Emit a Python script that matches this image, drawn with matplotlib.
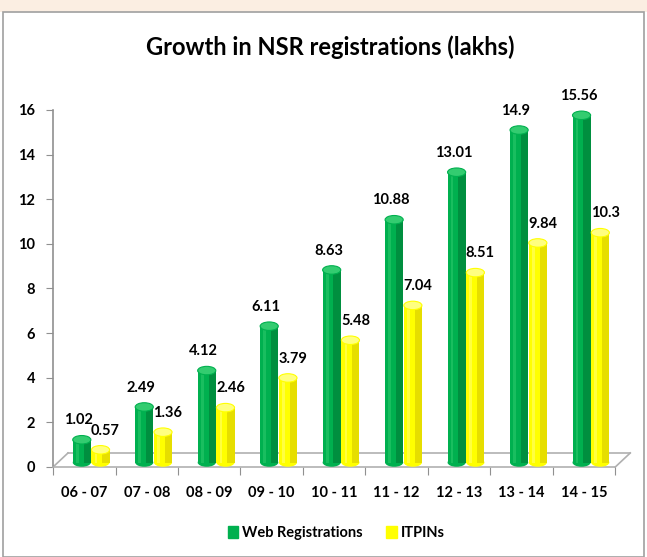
import matplotlib.pyplot as plt
from matplotlib.patches import Ellipse, Rectangle
import numpy as np

years = ['06 - 07', '07 - 08', '08 - 09', '09 - 10', '10 - 11',
         '11 - 12', '12 - 13', '13 - 14', '14 - 15']
web_reg = [1.02, 2.49, 4.12, 6.11, 8.63, 10.88, 13.01, 14.9, 15.56]
itpins = [0.57, 1.36, 2.46, 3.79, 5.48, 7.04, 8.51, 9.84, 10.3]
web_labels = ['1.02', '2.49', '4.12', '6.11', '8.63', '10.88', '13.01', '14.9', '15.56']
itp_labels = ['0.57', '1.36', '2.46', '3.79', '5.48', '7.04', '8.51', '9.84', '10.3']

FONT = ['Lato', 'DejaVu Sans']
plt.rcParams['font.family'] = FONT

fig = plt.figure(figsize=(6.47, 5.57), dpi=100)
# screenshot frame
fig.patches.append(Rectangle((0, 0.978), 1, 0.022, transform=fig.transFigure,
                             facecolor='#fbeee2', edgecolor='none', zorder=-10))
fig.patches.append(Rectangle((0.005, 0.0), 0.99, 0.978, transform=fig.transFigure,
                             facecolor='white', edgecolor='#a0a0a0', lw=1.2, zorder=-10))

ax = fig.add_axes([0.082, 0.1616, 0.869, 0.641])
ax.patch.set_alpha(0)
x = np.arange(len(years))
w = 0.29
base = 0.2
cap_h = 0.38

def cylinder(xc, h, col, dark, light):
    ax.bar(xc, h, width=w, bottom=base, color=col, edgecolor='none', zorder=3)
    ax.bar(xc + w * 0.3, h, width=w * 0.4, bottom=base, color=dark, edgecolor='none', zorder=3, alpha=0.6)
    ax.bar(xc - w * 0.25, h, width=w * 0.15, bottom=base, color=light, edgecolor='none', zorder=3, alpha=0.5)
    ax.add_patch(Ellipse((xc, base), w, cap_h, facecolor=col, edgecolor='none', zorder=2.9))
    ax.add_patch(Ellipse((xc, base + h), w, cap_h, facecolor=light, edgecolor=col, lw=0.8, zorder=4))

gx = x - 0.04
yx = x + 0.26
for i in range(len(years)):
    cylinder(gx[i], web_reg[i], '#00b04f', '#007a35', '#33cc70')
    cylinder(yx[i], itpins[i], '#ffff00', '#d6c800', '#ffff80')
    ax.text(gx[i] - 0.05, web_reg[i] + base + 0.55, web_labels[i], ha='center', va='bottom',
            fontsize=10.5, fontweight='bold', family=FONT)
    ax.text(yx[i] + 0.08, itpins[i] + base + 0.55, itp_labels[i], ha='center', va='bottom',
            fontsize=10.5, fontweight='bold', family=FONT)

# floor
dx, dy = 0.24, 0.63
fl = dict(color='#b0b0b0', lw=1.2, clip_on=False, zorder=1)
ax.plot([-0.5, -0.5 + dx], [0, dy], **fl)
ax.plot([8.5, 8.5 + dx], [0, dy], **fl)
ax.plot([-0.5 + dx, 8.5 + dx], [dy, dy], **fl)

ax.set_xlim(-0.5, 8.5)
ax.set_ylim(0, 16)
ax.set_yticks(range(0, 17, 2))
ax.set_xticks(np.arange(-0.5, 9, 1), minor=False)
ax.set_xticklabels([])
ax.set_xticks(x, minor=True)
ax.set_xticklabels(years, minor=True)
ax.tick_params(axis='x', which='minor', length=0, pad=14, labelsize=10.5)
ax.tick_params(axis='x', which='major', length=6, color='#909090', direction='out')
ax.tick_params(axis='y', length=5, color='#909090', labelsize=10.5, pad=8)
for lab in ax.get_yticklabels() + ax.get_xticklabels(minor=True):
    lab.set_fontweight('bold')
for s in ['top', 'right']:
    ax.spines[s].set_visible(False)
ax.spines['left'].set_color('#909090')
ax.spines['bottom'].set_color('#b0b0b0')
ax.spines['left'].set_linewidth(1.2)
ax.spines['bottom'].set_linewidth(1.2)

fig.text(0.51, 0.916, 'Growth in NSR registrations (lakhs)', ha='center', va='center',
         fontsize=17, fontweight='bold', family=FONT)

h1 = Rectangle((0, 0), 1, 1, color='#00b04f')
h2 = Rectangle((0, 0), 1, 1, color='#ffff00')
fig.legend([h1, h2], ['Web Registrations', 'ITPINs'], loc='center', bbox_to_anchor=(0.52, 0.043),
           ncol=2, frameon=False, handlelength=0.7, handleheight=0.9, handletextpad=0.3,
           columnspacing=1.6, prop={'family': FONT, 'size': 10.5, 'weight': 'bold'})

fig.savefig('out.png', dpi=100)
